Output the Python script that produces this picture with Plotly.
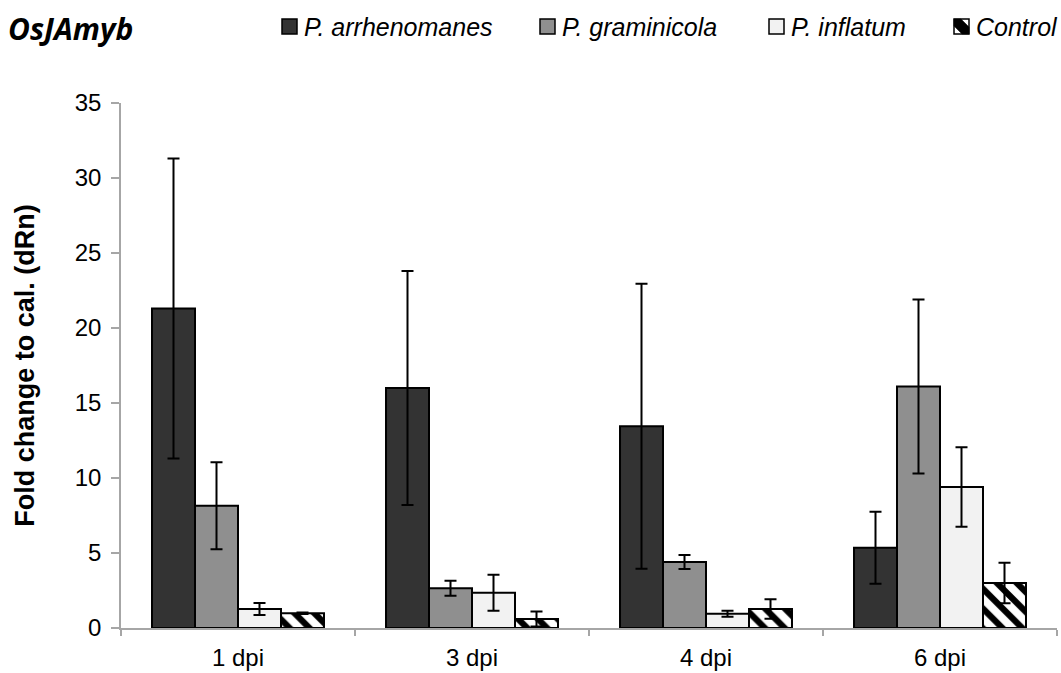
import plotly.graph_objects as go

categories = ["1 dpi", "3 dpi", "4 dpi", "6 dpi"]
series_names = ["P. arrhenomanes", "P. graminicola", "P. inflatum", "Control"]

arrhenomanes = [21.3, 16.0, 13.45, 5.35]
arrhenomanes_err = [10.0, 7.8, 9.5, 2.4]
graminicola = [8.15, 2.65, 4.4, 16.1]
graminicola_err = [2.9, 0.5, 0.47, 5.8]
inflatum = [1.27, 2.35, 0.95, 9.4]
inflatum_err = [0.4, 1.2, 0.2, 2.65]
control = [0.98, 0.6, 1.27, 3.0]
control_err = [0.05, 0.5, 0.65, 1.35]

y_ticks = [0, 5, 10, 15, 20, 25, 30, 35]

W, H = 1061, 673
L, R, T, B = 121, 1057, 103, 628

def px(x):
    return (x - L) / (R - L)

def py(y):
    return (B - y) / (B - T)

FONT = "Liberation Sans, Arial, sans-serif"

values = [arrhenomanes, graminicola, inflatum, control]
errors = [arrhenomanes_err, graminicola_err, inflatum_err, control_err]
fills = ["#333333", "#8f8f8f", "#f2f2f2", "#ffffff"]

fig = go.Figure()
for i, name in enumerate(series_names):
    marker = dict(color=fills[i], line=dict(color="black", width=2))
    if name == "Control":
        marker["pattern"] = dict(shape="\\", fgcolor="black", bgcolor="white",
                                 size=14, solidity=0.45, fillmode="replace")
    fig.add_trace(go.Bar(
        x=categories, y=values[i], name=name, marker=marker,
        error_y=dict(type="data", array=errors[i], visible=True,
                     color="black", thickness=2, width=6),
        showlegend=False,
    ))

# manual legend (swatch + italic label), matching the reference layout
sw_left = [282, 540, 769, 954]
txt_left = [302, 560, 789, 974]
sw_top, sw = 19, 15
shapes = []
annotations = []
for i, name in enumerate(series_names):
    x0 = sw_left[i]
    shapes.append(dict(type="rect", xref="paper", yref="paper",
                       x0=px(x0), x1=px(x0 + sw), y0=py(sw_top + sw), y1=py(sw_top),
                       fillcolor=fills[i], line=dict(color="black", width=1.5)))
    if name == "Control":
        pts = [(x0, sw_top), (x0 + 7, sw_top), (x0 + sw, sw_top + 8),
               (x0 + sw, sw_top + sw), (x0 + 8, sw_top + sw), (x0, sw_top + 7)]
        path = "M" + " L".join(f"{px(a):.5f},{py(b):.5f}" for a, b in pts) + " Z"
        shapes.append(dict(type="path", xref="paper", yref="paper", path=path,
                           fillcolor="black", line=dict(color="black", width=0.5)))
    annotations.append(dict(text=f"<i>{name}</i>", xref="paper", yref="paper",
                            x=px(txt_left[i]), y=py(27), xanchor="left", yanchor="middle",
                            showarrow=False, font=dict(family=FONT, size=25, color="black")))

annotations.append(dict(text="<b><i>OsJAmyb</i></b>", xref="paper", yref="paper",
                        x=px(6), y=py(28), xanchor="left", yanchor="middle",
                        showarrow=False,
                        font=dict(family="Open Sans, sans-serif", size=30, color="black")))

fig.update_layout(
    width=W, height=H,
    margin=dict(l=L, r=W - R, t=T, b=H - B, autoexpand=False),
    paper_bgcolor="white", plot_bgcolor="white",
    barmode="group", bargap=0.265, bargroupgap=0,
    font=dict(family=FONT, color="black"),
    shapes=shapes, annotations=annotations,
    showlegend=False,
)
fig.update_xaxes(
    type="category", showline=True, linecolor="#a6a6a6", linewidth=1.5,
    ticks="outside", tickson="boundaries", ticklen=6, tickcolor="#a6a6a6", tickwidth=1.5,
    tickfont=dict(size=24, family=FONT, color="black"), showgrid=False,
    ticklabelstandoff=7,
)
fig.update_yaxes(
    range=[0, 35], tickvals=y_ticks, ticktext=[str(v) for v in y_ticks],
    showline=True, linecolor="#a6a6a6", linewidth=1.5,
    ticks="outside", ticklen=8, tickcolor="#a6a6a6", tickwidth=1.5,
    tickfont=dict(size=24, family=FONT, color="black"), showgrid=False, zeroline=False,
    ticklabelstandoff=5,
    title=dict(text="<b>Fold change to cal. (dRn)</b>", standoff=32,
               font=dict(size=27, family=FONT, color="black")),
)

fig.write_html("out.html")
